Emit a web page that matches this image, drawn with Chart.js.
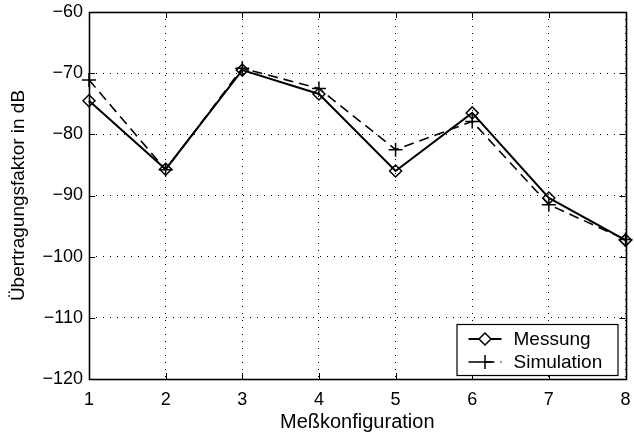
<!DOCTYPE html>
<html>
<head>
<meta charset="utf-8">
<script src="https://cdn.jsdelivr.net/npm/chart.js@4.4.0/dist/chart.umd.min.js"></script>
<style>
  html, body { margin: 0; padding: 0; background: #fff; }
  #wrap { width: 634px; height: 439px; }
</style>
</head>
<body>
<div id="wrap"><canvas id="chart"></canvas></div>
<script>
// Meßkonfigurationen 1..8
const configs = [1, 2, 3, 4, 5, 6, 7, 8];
const messung = [-74.5, -85.7, -69.5, -73.4, -86.0, -76.5, -90.4, -97.3];
const simulation = [-71.1, -85.8, -69.2, -72.5, -82.5, -77.9, -91.5, -97.2];
const yTicks = [-120, -110, -100, -90, -80, -70, -60];

const FONT = "'Liberation Sans', Arial, Helvetica, sans-serif";
const minus = v => String(v).replace('-', '\u2212');

// box around the axes, inward ticks on all four sides, legend in the lower right corner
const framePlugin = {
  id: 'frame',
  afterDraw(chart) {
    const ctx = chart.ctx;
    const a = chart.chartArea;
    const xs = chart.scales.x, ys = chart.scales.y;
    const tl = 6;
    ctx.save();
    ctx.strokeStyle = '#000';
    ctx.lineWidth = 1;
    ctx.setLineDash([]);
    ctx.beginPath();
    configs.forEach(c => {
      const px = Math.round(xs.getPixelForValue(c)) + 0.5;
      ctx.moveTo(px, a.bottom); ctx.lineTo(px, a.bottom - tl);
      ctx.moveTo(px, a.top); ctx.lineTo(px, a.top + tl);
    });
    yTicks.forEach(v => {
      const py = Math.round(ys.getPixelForValue(v)) + 0.5;
      ctx.moveTo(a.left, py); ctx.lineTo(a.left + tl, py);
      ctx.moveTo(a.right, py); ctx.lineTo(a.right - tl, py);
    });
    ctx.stroke();
    ctx.lineWidth = 1.6;
    ctx.strokeRect(Math.round(a.left) + 0.5, Math.round(a.top) + 0.5,
                   Math.round(a.right - a.left), Math.round(a.bottom - a.top));

    // legend
    const w = 161, h = 51;
    const lx = a.right - 8 - w, ly = a.bottom - 4 - h;
    ctx.fillStyle = '#fff';
    ctx.fillRect(lx, ly, w, h);
    ctx.lineWidth = 1.2;
    ctx.strokeRect(lx + 0.5, ly + 0.5, w, h);
    const sets = chart.data.datasets;
    sets.forEach((ds, i) => {
      const ry = ly + 15 + i * 23;
      const x0 = lx + 12, x1 = lx + 45;
      ctx.strokeStyle = '#000';
      ctx.lineWidth = ds.borderWidth;
      ctx.setLineDash(ds.borderDash || []);
      ctx.beginPath();
      ctx.moveTo(x0, ry); ctx.lineTo(x1, ry);
      ctx.stroke();
      ctx.setLineDash([]);
      ctx.fillStyle = '#fff';
      ctx.lineWidth = ds.pointBorderWidth;
      Chart.helpers.drawPoint(ctx, {
        pointStyle: ds.pointStyle, radius: ds.pointRadius,
        borderWidth: ds.pointBorderWidth, rotation: 0
      }, (x0 + x1) / 2, ry);
      ctx.fillStyle = '#000';
      ctx.font = '19px ' + FONT;
      ctx.textBaseline = 'middle';
      ctx.textAlign = 'left';
      ctx.fillText(ds.label, lx + 57, ry + 1);
    });
    ctx.restore();
  }
};

const toPoints = arr => configs.map((c, i) => ({ x: c, y: arr[i] }));

new Chart(document.getElementById('chart'), {
  type: 'line',
  data: {
    datasets: [
      {
        label: 'Messung',
        data: toPoints(messung),
        borderColor: '#000',
        backgroundColor: 'rgba(0,0,0,0)',
        borderWidth: 2,
        tension: 0,
        clip: false,
        pointStyle: 'rectRot',
        pointRadius: 6,
        pointBorderWidth: 1.5,
        pointBackgroundColor: 'rgba(0,0,0,0)',
        pointBorderColor: '#000'
      },
      {
        label: 'Simulation',
        data: toPoints(simulation),
        borderColor: '#000',
        backgroundColor: 'rgba(0,0,0,0)',
        borderWidth: 1.6,
        borderDash: [10, 6],
        tension: 0,
        clip: false,
        pointStyle: 'cross',
        pointRadius: 7,
        pointBorderWidth: 1.5,
        pointBorderColor: '#000'
      }
    ]
  },
  options: {
    responsive: true,
    maintainAspectRatio: false,
    animation: false,
    events: [],
    layout: { padding: { left: 0, top: 12, right: 7, bottom: 0 } },
    plugins: {
      legend: { display: false },
      tooltip: { enabled: false }
    },
    scales: {
      x: {
        type: 'linear',
        min: 1,
        max: 8,
        afterFit: s => { s.height = 60; s.paddingLeft = 0; s.paddingRight = 0; },
        afterBuildTicks: s => { s.ticks = configs.map(v => ({ value: v })); },
        ticks: {
          color: '#000',
          padding: 10,
          font: { family: FONT, size: 18 },
          callback: v => String(v)
        },
        grid: { color: '#000', lineWidth: 1, drawTicks: false },
        border: { display: false, dash: [1, 6] },
        title: {
          display: true,
          text: 'Meßkonfiguration',
          color: '#000',
          font: { family: FONT, size: 20 },
          padding: { top: 0, bottom: 5 }
        }
      },
      y: {
        type: 'linear',
        min: -120,
        max: -60,
        afterFit: s => { s.width = 89; s.paddingTop = 0; s.paddingBottom = 0; },
        afterBuildTicks: s => { s.ticks = yTicks.map(v => ({ value: v })); },
        ticks: {
          color: '#000',
          padding: 6,
          font: { family: FONT, size: 18 },
          callback: v => minus(v)
        },
        grid: { color: '#000', lineWidth: 1, drawTicks: false },
        border: { display: false, dash: [1, 6] },
        title: {
          display: true,
          text: 'Übertragungsfaktor in dB',
          color: '#000',
          font: { family: FONT, size: 19 },
          padding: { top: 7, bottom: 0 }
        }
      }
    }
  },
  plugins: [framePlugin]
});
</script>
</body>
</html>
